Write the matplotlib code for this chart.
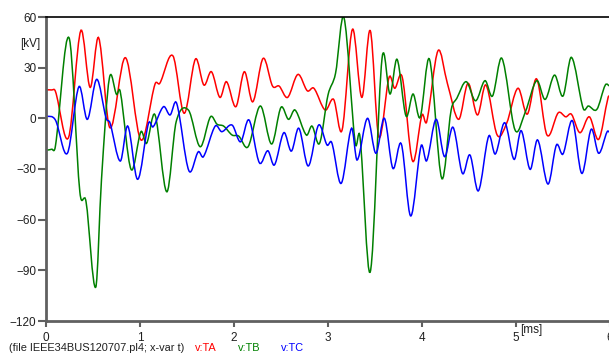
import matplotlib
matplotlib.use("Agg")
import matplotlib.pyplot as plt
from matplotlib.path import Path
from matplotlib.patches import PathPatch

plt.rcParams['font.family'] = ['Liberation Sans', 'DejaVu Sans']

# phase voltages read from the pl4 run, time in ms, voltage in kV
t_a = [0.0, 0.06, 0.1, 0.24, 0.37, 0.47, 0.56, 0.68, 0.845, 1.01, 1.16, 1.21, 1.35, 1.47,
       1.59, 1.68, 1.76, 1.85, 1.92, 2.02, 2.11, 2.20, 2.31, 2.41, 2.48, 2.57, 2.68,
       2.78, 2.85, 2.97, 3.06, 3.15, 3.26, 3.36, 3.45, 3.54, 3.65, 3.71, 3.79, 3.90,
       4.0, 4.05, 4.17, 4.27, 4.39, 4.49, 4.59, 4.68, 4.80, 4.90, 5.02, 5.12, 5.22,
       5.33, 5.45, 5.53, 5.59, 5.68, 5.78, 5.88, 5.98, 6.0]
v_a = [16.8, 16.8, 16.0, -11.3, 51.9, 18.3, 47.7, -5.6, 35.9, -12.8, 20.3, 20.7, 37.0, 3.0,
       35.1, 19.7, 27.6, 12.4, 21.7, 6.9, 27.6, 9.8, 35.5, 19.1, 19.1, 12.4, 26.0,
       16.3, 17.8, 4.9, 11.2, -6.9, 52.7, 12.4, 51.9, -10.9, 24.3, 17.8, 24.3, -25.3,
       2.0, -2.0, 40.0, 20.7, -0.6, 20.7, 2.0, 19.7, -9.9, -3.0, 17.8, 2.5, 23.3,
       -9.9, 3.3, 0.9, 2.4, -8.5, 0.9, -12.4, 12.4, 13.0]

t_b = [0.0, 0.06, 0.1, 0.245, 0.36, 0.426, 0.529, 0.59, 0.674, 0.75, 0.79, 0.905, 1.01,
       1.07, 1.16, 1.285, 1.385, 1.515, 1.64, 1.75, 1.82, 1.89, 1.98, 2.05, 2.15,
       2.28, 2.40, 2.50, 2.58, 2.65, 2.77, 2.83, 2.91, 3.0, 3.08, 3.17, 3.29, 3.34,
       3.45, 3.575, 3.66, 3.735, 3.83, 3.905, 3.98, 4.08, 4.21, 4.31, 4.37, 4.47,
       4.57, 4.67, 4.75, 4.85, 4.99, 5.10, 5.22, 5.31, 5.41, 5.50, 5.59, 5.715, 5.77,
       5.86, 5.95, 6.0]
v_b = [-18.8, -18.3, -16.5, 47.7, -43.5, -49.4, -100.0, -36.5, 23.7, 14.2, 15.8, -30.2, -7.9,
       -14.8, 2.0, -43.5, -2.0, 4.9, -16.8, 0.9, -3.5, -4.6, -9.9, -10.5, -16.8,
       7.3, -15.2, 6.5, -0.6, 4.9, -9.9, -4.6, -14.8, 13.8, 26.6, 59.6, -14.8, -10.9,
       -90.8, 35.5, 14.4, 34.9, 1.4, 14.4, 0.6, 34.9, -35.5, 4.9, 11.8, 21.7,
       10.4, 22.3, 13.2, 35.5, -6.9, 3.9, 22.3, 11.2, 25.6, 13.2, 36.1, 5.9, 7.3,
       5.3, 19.7, 19.0]

t_c = [0.0, 0.1, 0.227, 0.35, 0.44, 0.54, 0.64, 0.68, 0.79, 0.87, 0.975, 1.09, 1.14,
       1.25, 1.32, 1.39, 1.52, 1.62, 1.675, 1.80, 1.87, 1.98, 2.07, 2.16, 2.27, 2.36,
       2.43, 2.53, 2.61, 2.69, 2.79, 2.90, 2.99, 3.04, 3.14, 3.25, 3.31, 3.42, 3.51,
       3.60, 3.69, 3.78, 3.88, 3.99, 4.05, 4.15, 4.24, 4.33, 4.43, 4.51, 4.60, 4.71,
       4.78, 4.88, 4.98, 5.055, 5.15, 5.23, 5.34, 5.43, 5.50, 5.60, 5.70, 5.80, 5.88,
       5.97, 6.0]
v_c = [1.4, -1.0, -20.7, 18.7, -0.6, 23.1, 0.0, -2.6, -25.3, -4.6, -36.1, -3.0, -5.0,
       6.9, 2.0, 8.9, -31.0, -19.8, -22.7, -4.6, -7.9, -4.0, -13.9, -1.0, -26.3, -19.2,
       -27.6, -8.5, -19.4, -5.9, -28.2, -4.0, -15.8, -14.4, -38.5, -5.9, -24.7, 0.0, -20.7,
       0.0, -29.6, -15.2, -57.8, -16.4, -25.1, -0.6, -22.7, -5.3, -32.6, -21.7, -42.9, -10.5,
       -21.1, -2.6, -24.3, -7.3, -30.2, -12.8, -38.9, -15.8, -21.1, -1.4, -32.6, -6.5, -20.7,
       -7.9, -8.5]

y_ticks = [-120, -90, -60, -30, 0, 30, 60]
x_ticks = [0, 1, 2, 3, 4, 5, 6]


def smooth_path(xs, ys):
    # cubic bezier through every sample, tangents from the neighbours
    n = len(xs)
    verts = [(xs[0], ys[0])]
    codes = [Path.MOVETO]
    for i in range(n - 1):
        x0, y0 = xs[max(i - 1, 0)], ys[max(i - 1, 0)]
        x1, y1 = xs[i], ys[i]
        x2, y2 = xs[i + 1], ys[i + 1]
        x3, y3 = xs[min(i + 2, n - 1)], ys[min(i + 2, n - 1)]
        h = x2 - x1
        m1 = (y2 - y0) / (x2 - x0) if x2 != x0 else 0.0
        m2 = (y3 - y1) / (x3 - x1) if x3 != x1 else 0.0
        verts += [(x1 + h / 3, y1 + m1 * h / 3), (x2 - h / 3, y2 - m2 * h / 3), (x2, y2)]
        codes += [Path.CURVE4] * 3
    return Path(verts, codes)


fig = plt.figure(figsize=(6.09, 3.56), dpi=100)
ax = fig.add_axes([46 / 609, 35 / 356, 564 / 609, 304 / 356])

for xs, ys, col in [(t_a, v_a, '#ff0000'), (t_b, v_b, '#008000'), (t_c, v_c, '#0000ff')]:
    ax.add_patch(PathPatch(smooth_path(xs, ys), facecolor='none', edgecolor=col, lw=1.1))

ax.set_xlim(0, 6)
ax.set_ylim(-120, 60)
ax.set_xticks(x_ticks)
ax.set_yticks(y_ticks)

grey = '#606060'
ax.spines['left'].set_color(grey)
ax.spines['left'].set_linewidth(2)
ax.spines['bottom'].set_color(grey)
ax.spines['bottom'].set_linewidth(2)
ax.spines['top'].set_color('black')
ax.spines['top'].set_linewidth(1.2)
ax.spines['right'].set_visible(False)
ax.tick_params(axis='both', colors=grey, width=1.5, length=6, labelsize=8.5,
               labelcolor='#202020', direction='out')
ax.tick_params(axis='x', length=4, pad=4)
ax.tick_params(axis='y', pad=1)

fig.text(20 / 609, 1 - 44 / 356, '[kV]', fontsize=8.5, color='#202020', va='center')
fig.text(520 / 609, 1 - 330 / 356, '[ms]', fontsize=8.5, color='#202020', va='center')

fy = 1 - 348 / 356
fig.text(9 / 609, fy, '(file IEEE34BUS120707.pl4; x-var t)', fontsize=7.9,
         color='#202020', va='center')
fig.text(195 / 609, fy, 'v:TA', fontsize=7.9, color='#ff0000', va='center')
fig.text(238 / 609, fy, 'v:TB', fontsize=7.9, color='#008000', va='center')
fig.text(281 / 609, fy, 'v:TC', fontsize=7.9, color='#0000ff', va='center')

fig.savefig('out.png', dpi=100)
